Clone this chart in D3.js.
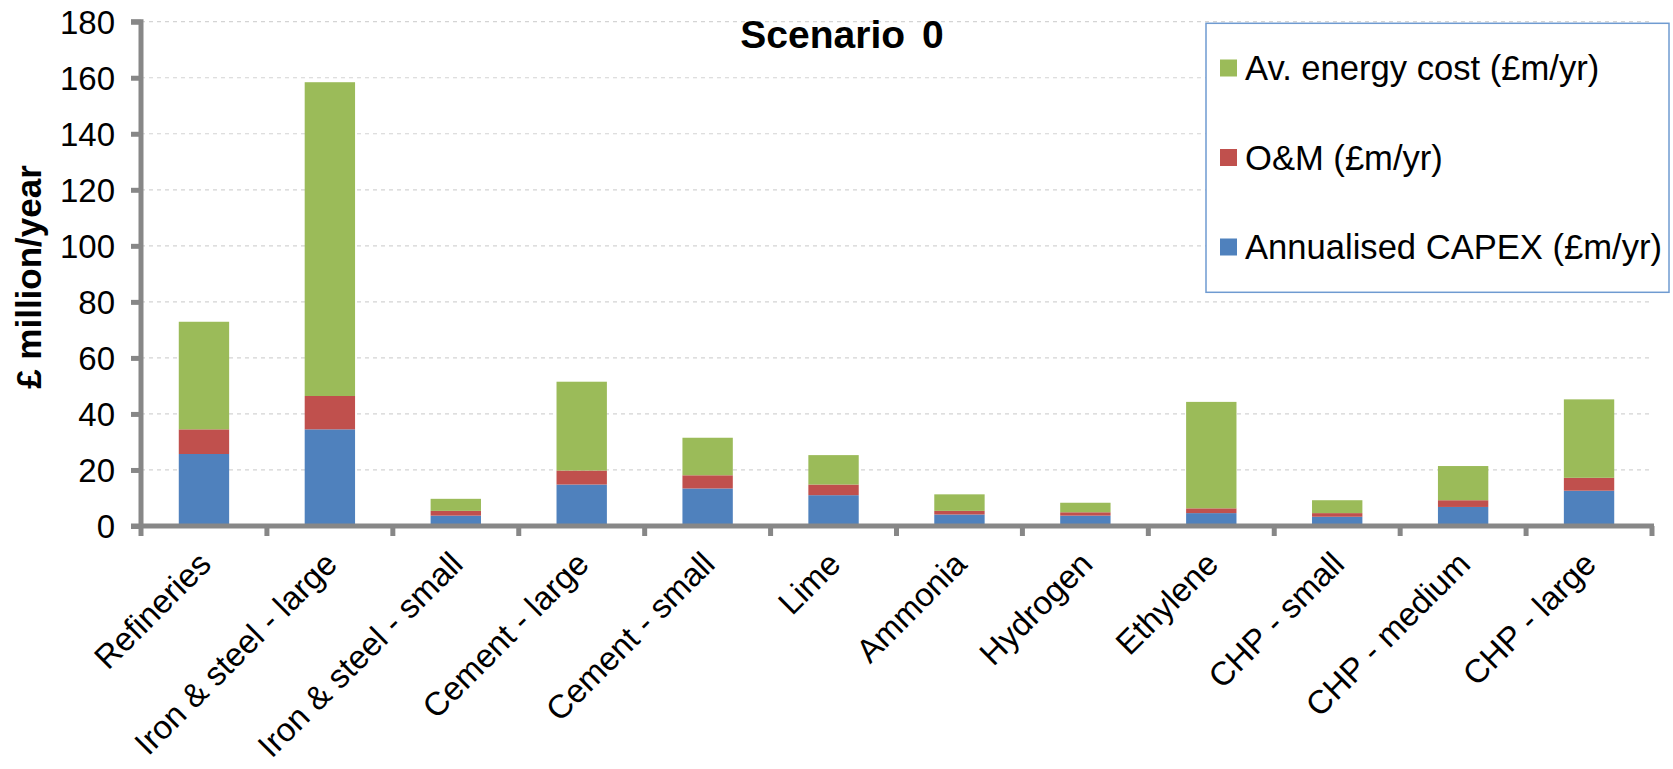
<!DOCTYPE html>
<html>
<head>
<meta charset="utf-8">
<script src="https://cdn.jsdelivr.net/npm/d3@7/dist/d3.min.js"></script>
<style>
  html, body { margin: 0; padding: 0; background: #fff; }
  svg { display: block; }
  text { font-family: "Liberation Sans", Arial, sans-serif; fill: #000; }
</style>
</head>
<body>
<svg id="chart" width="1673" height="769"></svg>
<script>
const categories = ["Refineries", "Iron & steel - large", "Iron & steel - small", "Cement - large", "Cement - small", "Lime", "Ammonia", "Hydrogen", "Ethylene", "CHP - small", "CHP - medium", "CHP - large"];
const capex  = [25.7, 34.5, 3.7, 14.8, 13.4, 11.0, 4.1, 3.7, 4.6, 3.3, 6.8, 12.6];
const om     = [8.8, 11.9, 1.7, 5.0, 4.7, 3.8, 1.3, 1.2, 1.7, 1.3, 2.4, 4.6];
const energy = [38.4, 112.0, 4.3, 31.7, 13.4, 10.5, 5.9, 3.4, 38.0, 4.6, 12.2, 28.0];
const seriesNames = ["Annualised CAPEX (£m/yr)", "O&M (£m/yr)", "Av. energy cost (£m/yr)"];
const seriesColors = ["#4F81BD", "#C0504D", "#9BBB59"];
const yTicks = [0, 20, 40, 60, 80, 100, 120, 140, 160, 180];
const chartTitle = "Scenario 0";
const yTitle = "£ million/year";

(function () {
const svg = d3.select("#chart");
const pLeft = 141, pRight = 1652, pTop = 21.7, pBottom = 526;

const rows = categories.map((c, i) => ({cat: c, s0: capex[i], s1: om[i], s2: energy[i]}));
const stack = d3.stack().keys(["s0", "s1", "s2"])(rows);

const x = d3.scaleBand().domain(categories).range([pLeft, pRight]).paddingInner(0.6).paddingOuter(0.3);
const y = d3.scaleLinear().domain([0, 180]).range([pBottom, pTop]);

// gridlines
svg.append("g").selectAll("line").data(yTicks.filter(d => d > 0)).join("line")
  .attr("x1", pLeft).attr("x2", pRight)
  .attr("y1", d => y(d)).attr("y2", d => y(d))
  .attr("stroke", "#d4d4d4").attr("stroke-width", 1.2).attr("stroke-dasharray", "4,4");

// bars
svg.append("g").selectAll("g").data(stack).join("g")
  .attr("fill", (d, i) => seriesColors[i])
  .selectAll("rect").data(d => d).join("rect")
  .attr("x", d => x(d.data.cat))
  .attr("width", x.bandwidth())
  .attr("y", d => y(d[1]))
  .attr("height", d => y(d[0]) - y(d[1]));

// y axis
const yAxis = d3.axisLeft(y).tickValues(yTicks).tickSize(10).tickPadding(16);
const gy = svg.append("g").attr("transform", `translate(${pLeft},0)`).call(yAxis);
gy.select(".domain").attr("stroke", "#878787").attr("stroke-width", 5).attr("d", `M-10,${pTop}H0V${pBottom}`);
gy.selectAll(".tick line").attr("stroke", "#878787").attr("stroke-width", 5);
gy.selectAll(".tick text").attr("font-size", 33).attr("font-family", "Liberation Sans, Arial, sans-serif").attr("fill", "#000").attr("dy", "0.36em");

// x axis with ticks at band boundaries
const gx = svg.append("g").attr("transform", `translate(0,${pBottom})`);
gx.append("line").attr("x1", pLeft - 10).attr("x2", pRight + 2).attr("y1", 0).attr("y2", 0)
  .attr("stroke", "#878787").attr("stroke-width", 5);
const bounds = d3.range(categories.length + 1).map(i => pLeft + i * (pRight - pLeft) / categories.length);
gx.selectAll("line.tk").data(bounds).join("line").attr("class", "tk")
  .attr("x1", d => d).attr("x2", d => d).attr("y1", 0).attr("y2", 10)
  .attr("stroke", "#878787").attr("stroke-width", 5);

// x labels
svg.append("g").selectAll("text").data(categories).join("text")
  .attr("transform", d => `translate(${x(d) + x.bandwidth() / 2 + 9},${566}) rotate(-45)`)
  .attr("text-anchor", "end")
  .attr("font-size", 33)
  .text(d => d);

// title
svg.append("text").attr("x", 842).attr("y", 48).attr("text-anchor", "middle")
  .attr("font-size", 39).attr("font-weight", "bold").attr("word-spacing", 6).text(chartTitle);

// y title
svg.append("text").attr("transform", `translate(41,277) rotate(-90)`)
  .attr("text-anchor", "middle").attr("font-size", 35).attr("font-weight", "bold").text(yTitle);

// legend
const lg = svg.append("g");
lg.append("rect").attr("x", 1206).attr("y", 23.3).attr("width", 463).attr("height", 269)
  .attr("fill", "#fff").attr("stroke", "#6f9bd1").attr("stroke-width", 1.5);
const legendOrder = [2, 1, 0];
const legendY = d3.scalePoint().domain(legendOrder).range([68, 247]);
legendOrder.forEach(i => {
  const cy = legendY(i);
  lg.append("rect").attr("x", 1220).attr("y", cy - 8.5).attr("width", 17).attr("height", 17).attr("fill", seriesColors[i]);
  lg.append("text").attr("x", 1245).attr("y", cy).attr("dy", "0.36em").attr("font-size", 34.6).text(seriesNames[i]);
});
})();
</script>
</body>
</html>
